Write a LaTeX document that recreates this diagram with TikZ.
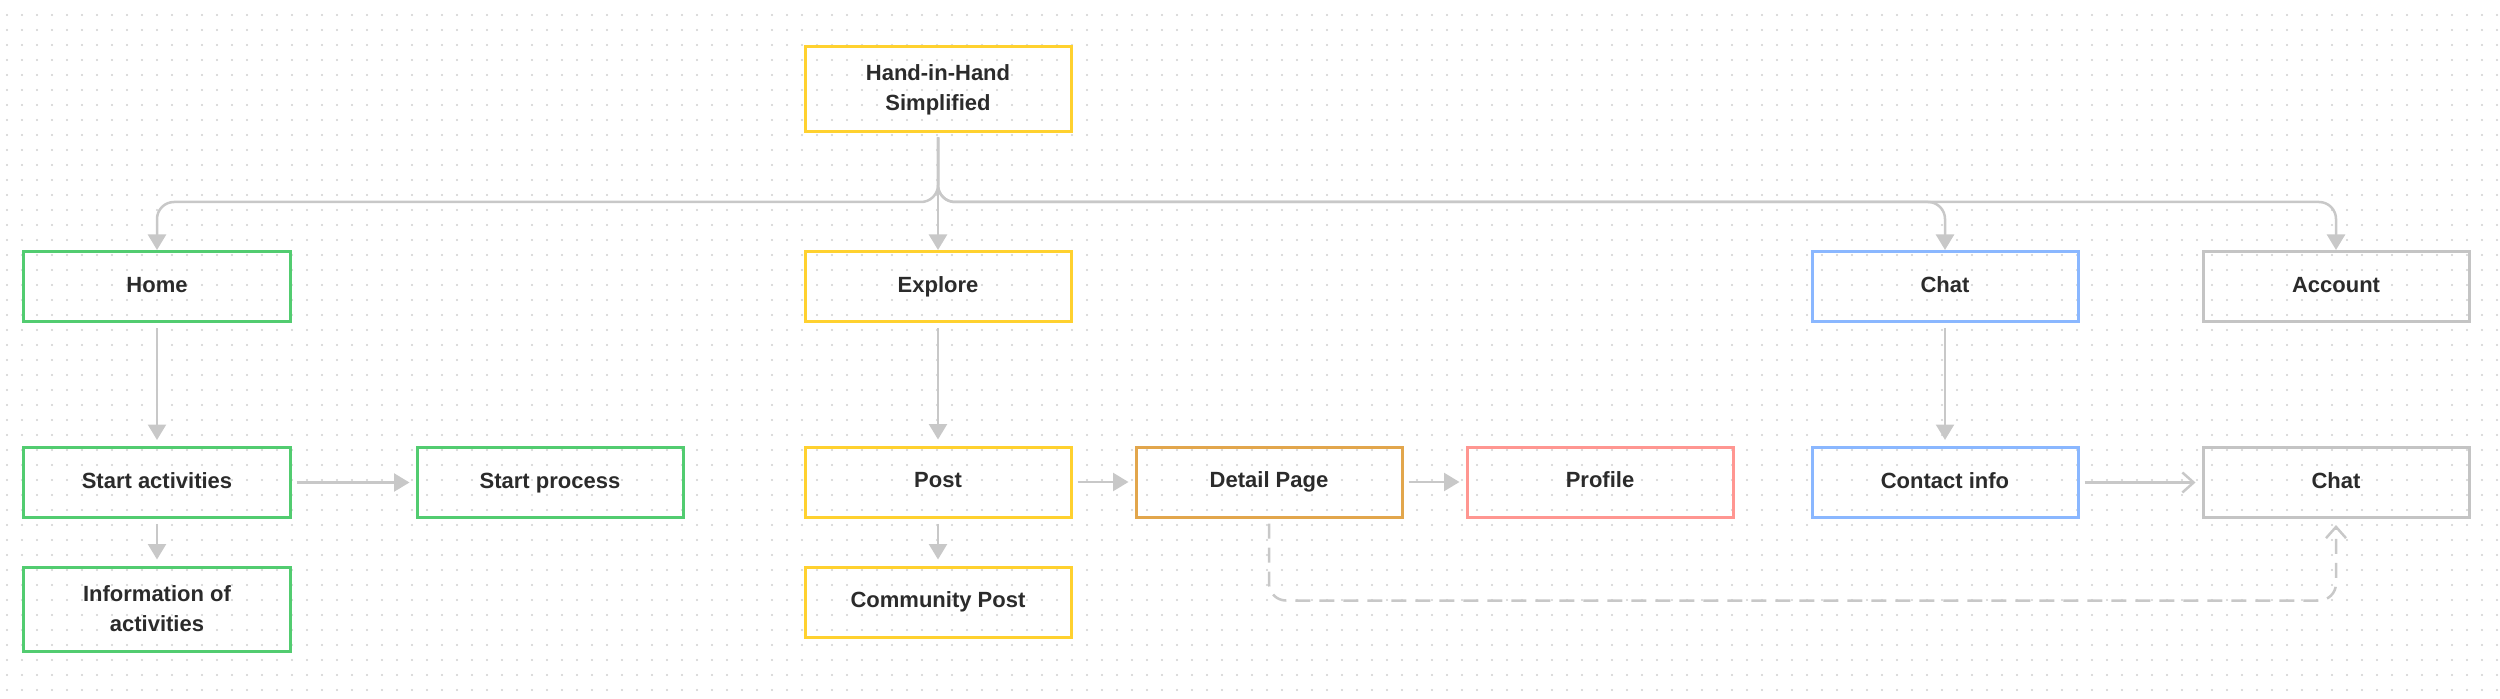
\documentclass[tikz,border=0pt]{standalone}
\usepackage{fontspec}
\setmainfont{Liberation Sans}
\usetikzlibrary{arrows.meta}
\definecolor{boxgreen}{HTML}{52CC70}
\definecolor{boxyellow}{HTML}{FFD12F}
\definecolor{boxorange}{HTML}{E2A64C}
\definecolor{boxred}{HTML}{FF9691}
\definecolor{boxblue}{HTML}{8AB7FF}
\definecolor{boxgray}{HTML}{C4C4C4}
\definecolor{linkgray}{HTML}{C8C8C8}
\definecolor{dotgray}{HTML}{CFCFCF}
\definecolor{textdark}{HTML}{2B2B2B}

\begin{document}
\begin{tikzpicture}[x=0.4pt,y=-0.4pt,
    box/.style={draw, line width=1.2pt, minimum width=106.4pt, minimum height=28pt, align=center, text=textdark, text height=6.4pt, text depth=1.8pt, font=\fontsize{8.8}{12}\selectfont\bfseries},
    twoline/.style={text height={}, text depth={}, minimum height=34pt},
    link/.style={draw=linkgray, line width=1pt, -{Triangle[width=7.2pt,length=6.2pt]}},
    openlink/.style={draw=linkgray, line width=1pt, -{Straight Barb[width=8pt,length=4.5pt]}},
    inner/.style={shorten <=2pt, shorten >=2.4pt}]
    \useasboundingbox (0,0) rectangle (2500,699);
    \foreach \y in {15,30,...,690}
        \draw[dotgray, line width=0.9pt, line cap=round, dash pattern=on 0pt off 6pt] (7,\y) -- (2500,\y);

    \node[box, twoline, draw=boxyellow] (hih) at (938,89.5) {Hand-in-Hand\\Simplified};
    \node[box, draw=boxgreen] (home) at (157,286.5) {Home};
    \node[box, draw=boxyellow] (explore) at (938,286.5) {Explore};
    \node[box, draw=boxblue] (chat) at (1945,286.5) {Chat};
    \node[box, draw=boxgray] (account) at (2336,286.5) {Account};
    \node[box, draw=boxgreen] (startact) at (157,482.5) {Start activities};
    \node[box, draw=boxgreen] (startproc) at (550,482.5) {Start process};
    \node[box, draw=boxyellow] (post) at (938,482) {Post};
    \node[box, draw=boxorange] (detail) at (1269,482) {Detail Page};
    \node[box, draw=boxred] (profile) at (1600,482) {Profile};
    \node[box, draw=boxblue] (contact) at (1945,482.5) {Contact info};
    \node[box, draw=boxgray] (chattwo) at (2336,482.5) {Chat};
    \node[box, twoline, draw=boxgreen, minimum height=33.6pt] (info) at (157,609) {Information of\\activities};
    \node[box, draw=boxyellow] (community) at (938,602) {Community Post};
    \coordinate (fork) at (938,202);

    \draw[link, rounded corners=6.8pt, shorten <=1.6pt] (hih) -- (fork) -| (home);
    \draw[link, rounded corners=6.8pt, shorten <=1.6pt] (hih) -- (fork) -| (chat);
    \draw[link, rounded corners=6.8pt, shorten <=1.6pt] (hih) -- (fork) -| (account);
    \draw[link, shorten <=1.6pt] (hih) -- (explore);
    \draw[link, inner] (home) -- (startact);
    \draw[link, inner] (startact) -- (startproc);
    \draw[link, inner] (startact) -- (info);
    \draw[link, inner] (explore) -- (post);
    \draw[link, inner] (post) -- (community);
    \draw[link, inner] (post) -- (detail);
    \draw[link, inner] (detail) -- (profile);
    \draw[link, inner] (chat) -- (contact);
    \draw[openlink, inner] (contact) -- (chattwo);
    \draw[openlink, inner, rounded corners=6.8pt, dash pattern=on 6pt off 3.6pt] (detail.south) -- ++(0,82) -| (chattwo.south);
\end{tikzpicture}
\end{document}
